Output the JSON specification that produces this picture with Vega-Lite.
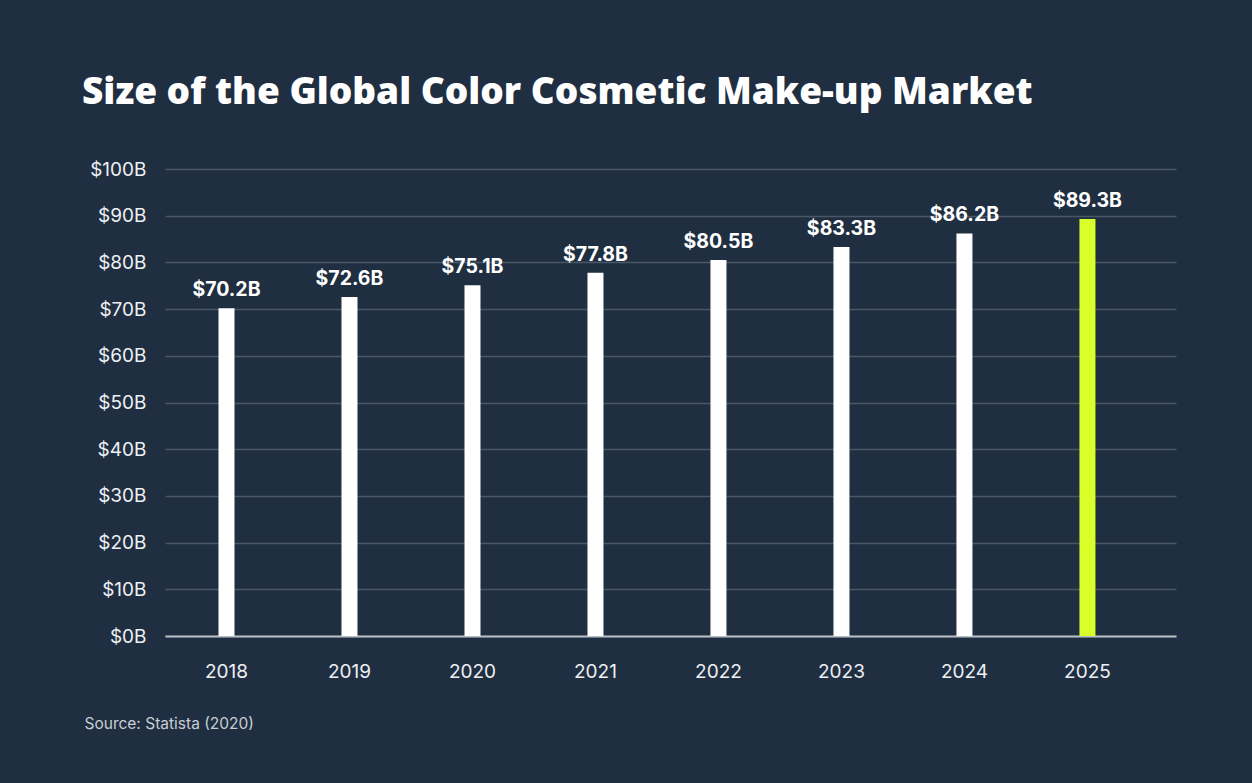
{
  "$schema": "https://vega.github.io/schema/vega-lite/v6.json",
  "autosize": {"type": "none"},
  "width": 1011,
  "height": 467,
  "padding": {"left": 165, "top": 169, "right": 76, "bottom": 147},
  "background": "#1f2f41",
  "title": {
    "text": "Size of the Global Color Cosmetic Make-up Market",
    "anchor": "start",
    "frame": "group",
    "dx": -83,
    "offset": 48,
    "font": "Open Sans",
    "fontSize": 37,
    "fontWeight": 800,
    "color": "#ffffff"
  },
  "data": {
    "values": [
      {"year": "2018", "value": 70.2, "label": "$70.2B"},
      {"year": "2019", "value": 72.6, "label": "$72.6B"},
      {"year": "2020", "value": 75.1, "label": "$75.1B"},
      {"year": "2021", "value": 77.8, "label": "$77.8B"},
      {"year": "2022", "value": 80.5, "label": "$80.5B"},
      {"year": "2023", "value": 83.3, "label": "$83.3B"},
      {"year": "2024", "value": 86.2, "label": "$86.2B"},
      {"year": "2025", "value": 89.3, "label": "$89.3B"}
    ]
  },
  "encoding": {
    "x": {
      "field": "year",
      "type": "ordinal",
      "sort": null,
      "scale": {"paddingInner": 0, "paddingOuter": 0.11, "align": 0},
      "axis": {
        "title": "Source: Statista (2020)",
        "titleX": -81,
        "titleY": 92,
        "titleAnchor": null,
        "titleAlign": "left",
        "titleBaseline": "alphabetic",
        "titleFont": "Inter",
        "titleFontSize": 15.5,
        "titleFontWeight": "normal",
        "titleColor": "#c9ced5",
        "labelAngle": 0,
        "labelFont": "Inter",
        "labelFontSize": 19,
        "labelColor": "#eef0f3",
        "labelPadding": 26,
        "ticks": false,
        "domain": true,
        "domainColor": "#b9bfc7",
        "domainWidth": 2,
        "grid": false
      }
    },
    "y": {
      "field": "value",
      "type": "quantitative",
      "scale": {"domain": [0, 100], "nice": false},
      "axis": {
        "title": null,
        "values": [0, 10, 20, 30, 40, 50, 60, 70, 80, 90, 100],
        "labelExpr": "'$' + datum.value + 'B'",
        "labelFont": "Inter",
        "labelFontSize": 19,
        "labelColor": "#eef0f3",
        "labelPadding": 19,
        "ticks": false,
        "domain": false,
        "grid": true,
        "gridColor": "#4a5767",
        "gridWidth": 1.5
      }
    }
  },
  "layer": [
    {
      "mark": {"type": "bar", "size": 16},
      "encoding": {
        "color": {
          "condition": {"test": "datum.year == '2025'", "value": "#d9ff2b"},
          "value": "#ffffff"
        }
      }
    },
    {
      "mark": {
        "type": "text",
        "baseline": "alphabetic",
        "dy": -12,
        "font": "Inter",
        "fontSize": 19.5,
        "fontWeight": "bold",
        "color": "#ffffff"
      },
      "encoding": {"text": {"field": "label"}}
    }
  ],
  "config": {"view": {"stroke": null}}
}
